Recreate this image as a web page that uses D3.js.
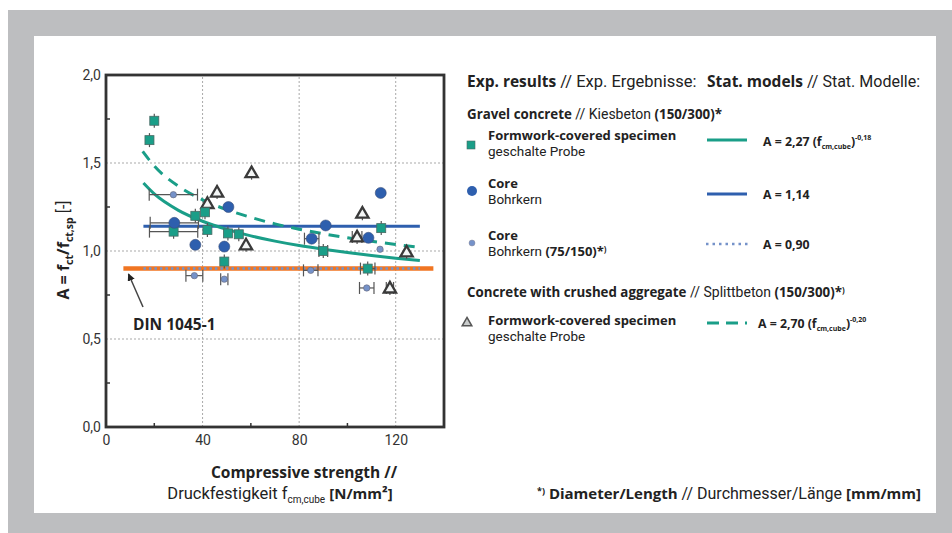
<!DOCTYPE html>
<html><head><meta charset="utf-8">
<script src="https://cdn.jsdelivr.net/npm/d3@7"></script>
<style>
body{margin:0;background:#fff;}
svg{display:block;font-family:Roboto, "Liberation Sans", sans-serif;}
</style></head>
<body><svg id="c" width="952" height="533"></svg>
<script>
// ---- data ----
const xTicks = [0, 40, 80, 120];
const yTicks = [0, 0.5, 1.0, 1.5, 2.0];
const xMinor = [20, 60, 100];
const yMinor = [0.25, 0.75, 1.25, 1.75];

// Gravel concrete, formwork-covered specimen (teal squares): x, A, x-error
const sqX   = [18, 20, 28, 37, 41, 42, 50.5, 55, 49, 90, 108.4, 114];
const sqY   = [1.63, 1.74, 1.11, 1.20, 1.22, 1.12, 1.10, 1.095, 0.94, 1.00, 0.90, 1.13];
const sqErr = [0, 0, 10, 0, 0, 0, 0, 0, 0, 1.8, 3, 0];

// Gravel concrete, core 150/300 (blue circles)
const coX   = [28.3, 37, 50.7, 49, 85.2, 91, 108.7, 113.8];
const coY   = [1.16, 1.035, 1.25, 1.025, 1.07, 1.145, 1.075, 1.33];
const coErr = [10, 0, 0, 0, 3, 0, 0, 0];

// Gravel concrete, core 75/150 (small circles)
const smX   = [27.9, 36.6, 49, 84.8, 108, 113.5];
const smY   = [1.32, 0.86, 0.84, 0.89, 0.79, 1.01];
const smErr = [10, 3.5, 1.5, 3, 3, 0];

// Crushed aggregate, formwork-covered specimen (triangles)
const trX   = [42, 46, 60.3, 58, 104, 106.2, 117.6, 124.5];
const trY   = [1.27, 1.335, 1.445, 1.035, 1.08, 1.215, 0.79, 0.995];
const trErr = [0, 0, 0, 0, 2, 0, 1.5, 0];

// Stat. model curves
const fitSolidX = [15.5, 20, 30, 40, 50, 60, 70, 80, 90, 100, 110, 120, 130];
const fitSolidY = [1.386, 1.324, 1.231, 1.169, 1.123, 1.086, 1.056, 1.031, 1.010, 0.991, 0.974, 0.959, 0.946];
const fitDashX  = [15.2, 20, 30, 40, 50, 60, 70, 80, 90, 100, 110, 120, 130];
const fitDashY  = [1.566, 1.483, 1.368, 1.291, 1.235, 1.191, 1.154, 1.124, 1.098, 1.075, 1.055, 1.037, 1.020];
const coreLineX = [15.5, 130];   const coreLineA = 1.14;
const smallLineX = [15.5, 130];  const smallLineA = 0.90;
const dinLineX = [7.2, 135.6];   const dinLineA = 0.90;

// ---- drawing ----
const svg = d3.select('#c');
const C = {teal:'#1a9e88', blue:'#2e5fae', light:'#7592c9', orange:'#f07522', frame:'#333', grid:'#a9a9a9', gray:'#bdbec0', err:'#555'};
const BOLD = '"Open Sans"';

svg.append('rect').attr('x',8).attr('y',10).attr('width',944).attr('height',523).attr('fill',C.gray);
svg.append('rect').attr('x',34).attr('y',36).attr('width',902).attr('height',477).attr('fill','#fff');

const x = d3.scaleLinear().domain([0,140]).range([106,444]);
const y = d3.scaleLinear().domain([0,2]).range([427,75]);

// grid
const g = svg.append('g');
g.selectAll('.gx').data(xTicks.filter(d=>d>0)).join('line')
  .attr('x1',d=>x(d)).attr('x2',d=>x(d)).attr('y1',y(0)).attr('y2',y(2))
  .attr('stroke',C.grid).attr('stroke-width',1).attr('stroke-dasharray','2,2');
g.selectAll('.gy').data(yTicks.filter(d=>d>0&&d<2)).join('line')
  .attr('y1',d=>y(d)).attr('y2',d=>y(d)).attr('x1',x(0)).attr('x2',x(140))
  .attr('stroke',C.grid).attr('stroke-width',1).attr('stroke-dasharray','2,2');

// axes labels via d3 axes
const ax = svg.append('g').attr('transform',`translate(0,${y(0)})`)
  .call(d3.axisBottom(x).tickValues(xTicks).tickSize(0).tickPadding(8).tickFormat(d3.format('d')));
ax.select('.domain').remove();
ax.selectAll('text').attr('font-size',14).attr('fill','#333').attr('font-family','Roboto');
const ay = svg.append('g').attr('transform',`translate(${x(0)},0)`)
  .call(d3.axisLeft(y).tickValues(yTicks).tickSize(0).tickPadding(5).tickFormat(d=>d3.format('.1f')(d).replace('.',',')));
ay.select('.domain').remove();
ay.selectAll('text').attr('font-size',14).attr('fill','#333').attr('font-family','Roboto');

// minor ticks
svg.selectAll('.mx').data(xMinor).join('line')
  .attr('x1',d=>x(d)).attr('x2',d=>x(d)).attr('y1',y(0)).attr('y2',y(0)-4)
  .attr('stroke',C.frame).attr('stroke-width',1.5);
svg.selectAll('.my').data(yMinor).join('line')
  .attr('x1',x(0)).attr('x2',x(0)+4).attr('y1',d=>y(d)).attr('y2',d=>y(d))
  .attr('stroke',C.frame).attr('stroke-width',1.5);

// model lines
const line = d3.line().x(d=>x(d[0])).y(d=>y(d[1])).curve(d3.curveMonotoneX);
svg.append('line').attr('x1',x(dinLineX[0])).attr('x2',x(dinLineX[1])).attr('y1',y(dinLineA)).attr('y2',y(dinLineA))
  .attr('stroke',C.orange).attr('stroke-width',4.5);
svg.append('line').attr('x1',x(smallLineX[0])).attr('x2',x(smallLineX[1])).attr('y1',y(smallLineA)).attr('y2',y(smallLineA))
  .attr('stroke',C.light).attr('stroke-width',2.5).attr('stroke-dasharray','2.5,3');
svg.append('line').attr('x1',x(coreLineX[0])).attr('x2',x(coreLineX[1])).attr('y1',y(coreLineA)).attr('y2',y(coreLineA))
  .attr('stroke',C.blue).attr('stroke-width',3);
svg.append('path').attr('d',line(d3.zip(fitSolidX,fitSolidY))).attr('fill','none')
  .attr('stroke',C.teal).attr('stroke-width',3);
svg.append('path').attr('d',line(d3.zip(fitDashX,fitDashY))).attr('fill','none')
  .attr('stroke',C.teal).attr('stroke-width',3).attr('stroke-dasharray','11,8');

// error bars helper
function errBars(xs, ys, es){
  const gE = svg.append('g').attr('stroke',C.err).attr('stroke-width',1.2);
  xs.forEach((xv,i)=>{
    const e = es[i]; if(!e) return;
    const yy = y(ys[i]);
    gE.append('line').attr('x1',x(xv-e)).attr('x2',x(xv+e)).attr('y1',yy).attr('y2',yy);
    [xv-e, xv+e].forEach(v=>gE.append('line').attr('x1',x(v)).attr('x2',x(v)).attr('y1',yy-6).attr('y2',yy+6));
  });
}
errBars(smX, smY, smErr);
errBars(sqX, sqY, sqErr);
errBars(coX, coY, coErr);
errBars(trX, trY, trErr);

// small vertical bars on markers
function vBars(xs, ys, h){
  svg.append('g').selectAll('line').data(xs).join('line')
    .attr('x1',d=>x(d)).attr('x2',d=>x(d)).attr('y1',(d,i)=>y(ys[i])-h).attr('y2',(d,i)=>y(ys[i])+h)
    .attr('stroke',C.err).attr('stroke-width',1.2);
}
vBars(sqX, sqY, 7);
vBars(trX, trY, 7);

// markers
const tri = d3.symbol().type(d3.symbolTriangle).size(65);
svg.append('g').selectAll('path').data(d3.zip(trX,trY)).join('path')
  .attr('d',tri).attr('transform',d=>`translate(${x(d[0])},${y(d[1])+1})`)
  .attr('fill','#f4f6f6').attr('stroke','#3a3a3a').attr('stroke-width',2.3);
svg.append('g').selectAll('rect').data(d3.zip(sqX,sqY)).join('rect')
  .attr('x',d=>x(d[0])-4.5).attr('y',d=>y(d[1])-4.5).attr('width',9).attr('height',9)
  .attr('fill',C.teal).attr('stroke','#4a6a64').attr('stroke-width',0.8);
svg.append('g').selectAll('circle').data(d3.zip(coX,coY)).join('circle')
  .attr('cx',d=>x(d[0])).attr('cy',d=>y(d[1])).attr('r',5.5)
  .attr('fill',C.blue).attr('stroke','#3b4f78').attr('stroke-width',0.6);
svg.append('g').selectAll('circle').data(d3.zip(smX,smY)).join('circle')
  .attr('cx',d=>x(d[0])).attr('cy',d=>y(d[1])).attr('r',3.2)
  .attr('fill',C.light).attr('stroke','#667').attr('stroke-width',0.6);

// frame
svg.append('rect').attr('x',x(0)).attr('y',y(2)).attr('width',x(140)-x(0)).attr('height',y(0)-y(2))
  .attr('fill','none').attr('stroke',C.frame).attr('stroke-width',2.8);

// DIN annotation
svg.append('defs').append('marker').attr('id','ah').attr('viewBox','0 0 10 10').attr('refX',9).attr('refY',5)
  .attr('markerWidth',5).attr('markerHeight',5).attr('orient','auto')
  .append('path').attr('d','M0,0L10,5L0,10z').attr('fill','#222');
svg.append('line').attr('x1',143).attr('y1',307).attr('x2',128.5).attr('y2',274)
  .attr('stroke','#444').attr('stroke-width',1.5).attr('marker-end','url(#ah)');
svg.append('text').attr('x',133).attr('y',330).attr('font-size',15.5).attr('font-weight','bold')
  .attr('font-family',BOLD).attr('fill','#222').text('DIN 1045-1');

// axis titles
svg.append('text').attr('x',304).attr('y',478).attr('text-anchor','middle').attr('font-size',15.5)
  .attr('font-weight','bold').attr('font-family',BOLD).attr('fill','#222').text('Compressive strength //');
const xt = svg.append('text').attr('x',280).attr('y',499).attr('text-anchor','middle').attr('font-size',16.5).attr('fill','#222');
xt.append('tspan').text('Druckfestigkeit f');
xt.append('tspan').attr('font-size',10).attr('dy',4).text('cm,cube');
xt.append('tspan').attr('dy',-4).text(' ');
xt.append('tspan').attr('font-weight','bold').attr('font-family',BOLD).attr('font-size',15).text('[N/mm²]');

const yt = svg.append('text').attr('transform','translate(69,250) rotate(-90)').attr('text-anchor','middle')
  .attr('font-size',16).attr('font-weight','bold').attr('font-family',BOLD).attr('fill','#222');
yt.append('tspan').text('A = f');
yt.append('tspan').attr('font-size',10.5).attr('dy',4).text('ct');
yt.append('tspan').attr('dy',-4).text('/f');
yt.append('tspan').attr('font-size',10.5).attr('dy',4).text('ct,sp');
yt.append('tspan').attr('dy',-4).attr('font-weight','normal').attr('font-family','Roboto').attr('font-size',16).text(' [-]');

// ---- legend ----
function rich(xp, yp, parts, size, anchor){
  const t = svg.append('text').attr('x',xp).attr('y',yp).attr('font-size',size).attr('fill','#222')
    .attr('text-anchor',anchor||'start');
  parts.forEach(p=>{
    const s = t.append('tspan').text(p.t);
    if(p.b) s.attr('font-weight','bold').attr('font-family',BOLD);
    if(p.sz) s.attr('font-size',p.sz);
    if(p.dy) s.attr('dy',p.dy);
    if(p.x!==undefined) s.attr('x',p.x);
  });
  return t;
}
rich(467, 87, [{t:'Exp. results',b:1},{t:' // Exp. Ergebnisse:',sz:16.5},{t:'Stat. models',b:1,x:707},{t:' // Stat. Modelle:',sz:16}], 15.5);
rich(467, 119, [{t:'Gravel concrete',b:1},{t:' // Kiesbeton ',sz:14},{t:'(150/300)*',b:1}], 13.3);

// entry 1
svg.append('rect').attr('x',467).attr('y',141).attr('width',8).attr('height',8).attr('fill',C.teal).attr('stroke','#4a6a64').attr('stroke-width',0.6);
rich(488, 140, [{t:'Formwork-covered specimen',b:1}], 13);
rich(488, 156, [{t:'geschalte Probe'}], 13.5);
svg.append('line').attr('x1',707).attr('x2',747).attr('y1',140).attr('y2',140).attr('stroke',C.teal).attr('stroke-width',3);
rich(763, 146, [{t:'A = 2,27 (f',b:1},{t:'cm,cube',b:1,sz:7,dy:3},{t:')',b:1,dy:-3},{t:'-0,18',b:1,sz:7,dy:-6},{t:' ',dy:6}], 12.3);

// entry 2
svg.append('circle').attr('cx',472).attr('cy',191).attr('r',5).attr('fill',C.blue);
rich(488, 188, [{t:'Core',b:1}], 13);
rich(488, 204, [{t:'Bohrkern'}], 13.5);
svg.append('line').attr('x1',707).attr('x2',747).attr('y1',194).attr('y2',194).attr('stroke',C.blue).attr('stroke-width',3);
rich(763, 199, [{t:'A = 1,14',b:1}], 12.3);

// entry 3
svg.append('circle').attr('cx',472).attr('cy',243).attr('r',3).attr('fill',C.light).attr('stroke','#889').attr('stroke-width',0.5);
rich(488, 240, [{t:'Core',b:1}], 13);
rich(488, 256, [{t:'Bohrkern '},{t:'(75/150)*',b:1,sz:13},{t:')',b:1,sz:8,dy:-4}], 13.5);
svg.append('line').attr('x1',706).attr('x2',748).attr('y1',244).attr('y2',244).attr('stroke',C.light).attr('stroke-width',2.5).attr('stroke-dasharray','2.5,4');
rich(763, 249, [{t:'A = 0,90',b:1}], 12.3);

// crushed aggregate
rich(467, 297, [{t:'Concrete with crushed aggregate',b:1},{t:' // Splittbeton ',sz:14},{t:'(150/300)*',b:1},{t:')',b:1,sz:8,dy:-4}], 13.3);
svg.append('path').attr('d',d3.symbol().type(d3.symbolTriangle).size(40)).attr('transform','translate(467,323)')
  .attr('fill','#c9cccc').attr('stroke','#555').attr('stroke-width',1.5);
rich(488, 325, [{t:'Formwork-covered specimen',b:1}], 13);
rich(488, 341, [{t:'geschalte Probe'}], 13.5);
svg.append('line').attr('x1',707).attr('x2',747).attr('y1',323).attr('y2',323).attr('stroke',C.teal).attr('stroke-width',3).attr('stroke-dasharray','12,7');
rich(758, 328, [{t:'A = 2,70 (f',b:1},{t:'cm,cube',b:1,sz:7,dy:3},{t:')',b:1,dy:-3},{t:'-0,20',b:1,sz:7,dy:-6},{t:' ',dy:6}], 12.3);

// footnote
rich(921, 499, [{t:'*)',b:1,sz:9,dy:-5},{t:' Diameter/Length',b:1,sz:15,dy:5},{t:' // Durchmesser/Länge ',sz:16},{t:'[mm/mm]',b:1,sz:15}], 15, 'end');
</script></body></html>
